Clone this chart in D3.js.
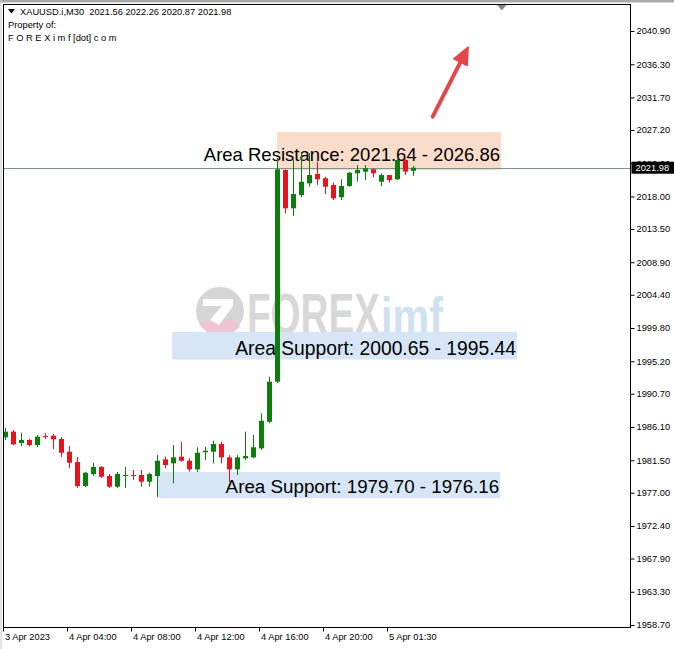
<!DOCTYPE html>
<html>
<head>
<meta charset="utf-8">
<script src="https://cdn.jsdelivr.net/npm/d3@7"></script>
<style>
html,body{margin:0;padding:0;background:#fff;}
svg{display:block;}
text{font-family:"Liberation Sans",Arial,sans-serif;}
</style>
</head>
<body>
<svg id="chart" width="674" height="649"></svg>
<script>
// ---- data ----
const symbolTitle = "XAUUSD.i,M30";
const headerOHLC = ["2021.56", "2022.26", "2020.87", "2021.98"];
const headerLines = ["Property of:", "F O R E X i m f [dot] c o m"];

const opens = [1984.67,1985.45,1983.88,1984.30,1983.60,1984.85,1984.89,1984.44,1982.68,1981.25,
  1977.93,1979.59,1980.56,1979.32,1977.84,1979.32,1979.46,1979.46,1978.53,1979.32,
  1981.63,1981.07,1981.99,1981.43,1980.24,1982.60,1982.68,1983.74,1981.90,1980.24,
  1981.77,1981.90,1983.15,1986.83,1992.37,2021.66,2016.36,2018.20,2019.82,2021.11,
  2020.52,2019.59,2017.89,2019.45,2021.21,2021.43,2021.76,2020.04,2020.97,2020.38,
  2023.05,2021.56];
const highs = [1985.96,1985.68,1985.31,1984.44,1985.00,1985.27,1985.13,1984.71,1983.47,1981.95,
  1979.91,1981.16,1980.70,1979.59,1979.87,1980.60,1980.15,1980.15,1979.77,1982.22,
  1981.99,1983.61,1984.06,1981.77,1983.29,1983.38,1984.20,1984.06,1982.22,1982.22,
  1985.45,1985.00,1987.99,1993.06,2023.32,2021.76,2023.05,2023.97,2023.97,2022.81,
  2020.74,2019.91,2020.38,2021.39,2022.36,2022.36,2021.90,2021.21,2020.97,2023.19,
  2023.14,2022.26];
const lows = [1984.30,1983.60,1983.47,1983.40,1983.33,1984.44,1983.05,1981.95,1980.42,1977.66,
  1977.80,1979.32,1979.04,1977.66,1977.66,1977.66,1978.77,1977.84,1977.84,1976.45,
  1980.38,1978.31,1981.30,1979.91,1979.91,1981.53,1981.07,1981.07,1978.49,1979.46,
  1981.53,1981.77,1982.92,1986.61,1992.19,2015.67,2015.30,2017.89,2019.35,2019.59,
  2018.34,2017.51,2017.51,2019.35,2020.04,2020.28,2020.66,2019.45,2019.91,2020.28,
  2020.97,2020.87];
const closes = [1985.45,1983.70,1984.30,1983.60,1984.76,1984.71,1984.40,1982.54,1981.16,1977.93,
  1979.77,1980.56,1979.22,1977.84,1979.59,1979.46,1979.32,1978.53,1979.59,1981.43,
  1980.84,1981.90,1981.43,1980.24,1982.54,1982.82,1983.74,1981.90,1980.24,1981.90,
  1982.08,1983.29,1986.97,1992.37,2021.76,2016.36,2018.34,2020.04,2020.97,2020.38,
  2019.35,2017.75,2019.45,2021.29,2021.66,2021.90,2021.21,2020.97,2020.28,2023.05,
  2021.43,2021.98];
const lastPrice = 2021.98;

const priceTicks = [2040.90,2036.30,2031.70,2027.20,2022.60,2018.00,2013.50,2008.90,2004.40,
  1999.80,1995.20,1990.70,1986.10,1981.50,1977.00,1972.40,1967.90,1963.30,1958.70];
const timeLabels = ["3 Apr 2023","4 Apr 04:00","4 Apr 08:00","4 Apr 12:00","4 Apr 16:00","4 Apr 20:00","5 Apr 01:30"];
const timeLabelBars = [0, 8, 16, 24, 32, 40, 48];

const zoneLabels = ["Area Resistance: 2021.64 - 2026.86","Area Support: 2000.65 - 1995.44","Area Support: 1979.70 - 1976.16"];
const zoneHigh = [2026.90, 1999.25, 1979.87];
const zoneLow  = [2021.64, 1995.44, 1976.27];
const zoneFromBar = [34.0, 20.9, 19.0];
const zoneToBar   = [62.0, 64.0, 61.9];
const zoneKind = ["resistance","support","support"];

const arrowFrom = [53.46, 2029.04];
const arrowTo   = [57.9, 2038.69];
const shiftMarkerBar = 62.1;

// ---- layout ----
const svg = d3.select("#chart");
const plot = {left: 3.5, right: 630.5, top: 4.5, bottom: 627.5};
const x = d3.scaleLinear().domain([0, 78]).range([5, 629]);
const y = d3.scaleLinear().domain([1958.70, 2040.90]).range([625, 31]);
const green = "#0d7d0d", red = "#e6141d";

// top grey bar
svg.append("rect").attr("x",0).attr("y",0).attr("width",674).attr("height",2.5).attr("fill","#a9a9a9");
svg.append("line").attr("x1",1).attr("x2",1).attr("y1",0).attr("y2",649).attr("stroke","#c8c8c8");

svg.append("defs").append("clipPath").attr("id","plotclip")
  .append("rect").attr("x",plot.left).attr("y",plot.top).attr("width",plot.right-plot.left).attr("height",plot.bottom-plot.top);
const g = svg.append("g").attr("clip-path","url(#plotclip)");

// watermark
const wm = g.append("g");
wm.append("circle").attr("cx",220).attr("cy",311).attr("r",24).attr("fill","#d6d6d6");
wm.append("path").attr("d","M199,323 A24,24 0 0 0 240,326 L231,318 Z").attr("fill","#f0c4d3");
wm.append("path").attr("d","M203,299 L233,299 L233,306 L219,325 L210,320 L222,306 L203,306 Z").attr("fill","#ffffff");
wm.append("text").attr("x",247).attr("y",334).attr("font-size",58).attr("font-weight","bold")
  .attr("textLength",133).attr("lengthAdjust","spacingAndGlyphs").attr("fill","#d8d8d8").text("FOREX");
wm.append("text").attr("x",381).attr("y",334).attr("font-size",52).attr("font-weight","bold")
  .attr("textLength",62).attr("lengthAdjust","spacingAndGlyphs").attr("fill","#d0e1ef").text("imf");

// zones
const zoneFill = k => k === "resistance" ? "#fbdccb" : "#d6e6f6";
g.selectAll("rect.zone").data(zoneLabels).join("rect").attr("class","zone")
  .attr("x",(d,i)=>x(zoneFromBar[i])).attr("width",(d,i)=>x(zoneToBar[i])-x(zoneFromBar[i]))
  .attr("y",(d,i)=>y(zoneHigh[i])).attr("height",(d,i)=>y(zoneLow[i])-y(zoneHigh[i]))
  .attr("fill",(d,i)=>zoneFill(zoneKind[i]));

// last price line
g.append("line").attr("x1",plot.left).attr("x2",plot.right).attr("y1",Math.round(y(lastPrice))+0.5).attr("y2",Math.round(y(lastPrice))+0.5)
  .attr("stroke","#7f9090").attr("stroke-width",1);

// zone labels
const labelLift = i => i === 0 ? 9 : 5;
const labelSize = i => [18.5, 19.3, 18.8][i];
g.selectAll("text.zl").data(zoneLabels).join("text").attr("class","zl")
  .attr("x",(d,i)=>x(zoneToBar[i])-1).attr("y",(d,i)=>y(zoneLow[i])-labelLift(i))
  .attr("text-anchor","end").attr("font-size",(d,i)=>labelSize(i)).attr("fill","#000").text(d=>d);

// candles
const idx = d3.range(opens.length);
const cw = 5;
g.selectAll("line.wick").data(idx).join("line").attr("class","wick")
  .attr("x1",i=>Math.round(x(i))+0.5).attr("x2",i=>Math.round(x(i))+0.5)
  .attr("y1",i=>y(highs[i])).attr("y2",i=>y(lows[i]))
  .attr("stroke",i=>closes[i]>=opens[i]?green:red).attr("stroke-width",1);
g.selectAll("rect.body").data(idx).join("rect").attr("class","body")
  .attr("x",i=>Math.round(x(i))-2).attr("width",cw)
  .attr("y",i=>y(Math.max(opens[i],closes[i])))
  .attr("height",i=>Math.max(1,Math.abs(y(opens[i])-y(closes[i]))))
  .attr("fill",i=>closes[i]>=opens[i]?green:red);

// arrow
const ax1 = x(arrowFrom[0]), ay1 = y(arrowFrom[1]), ax2 = x(arrowTo[0]), ay2 = y(arrowTo[1]);
const ang = Math.atan2(ay2-ay1, ax2-ax1);
const hl = 17, hw = 7.5;
const bx = ax2 - hl*Math.cos(ang), by = ay2 - hl*Math.sin(ang);
g.append("line").attr("x1",ax1).attr("y1",ay1).attr("x2",bx+3*Math.cos(ang)).attr("y2",by+3*Math.sin(ang))
  .attr("stroke","#e2474b").attr("stroke-width",4).attr("stroke-linecap","round");
g.append("path").attr("d",`M${ax2},${ay2} L${bx - hw*Math.sin(ang)},${by + hw*Math.cos(ang)} L${bx + hw*Math.sin(ang)},${by - hw*Math.cos(ang)} Z`)
  .attr("fill","#e2474b").attr("stroke","#e2474b").attr("stroke-linejoin","round").attr("stroke-width",1.5);

// shift marker
const sx = x(shiftMarkerBar);
svg.append("path").attr("d",`M${sx-5},${plot.top} L${sx+5},${plot.top} L${sx},${plot.top+6} Z`).attr("fill","#7d8996");

// frame
svg.append("rect").attr("x",plot.left).attr("y",plot.top).attr("width",plot.right-plot.left).attr("height",plot.bottom-plot.top)
  .attr("fill","none").attr("stroke","#000").attr("stroke-width",1);

// right axis
const yAxis = d3.axisRight(y).tickValues(priceTicks).tickSize(4).tickPadding(2).tickFormat(d3.format(".2f"));
const ya = svg.append("g").attr("transform",`translate(${plot.right},0)`).call(yAxis);
ya.select(".domain").remove();
ya.selectAll("text").attr("font-size",9.3).attr("fill","#000").attr("font-family","Liberation Sans, Arial, sans-serif");
ya.selectAll("line").attr("stroke","#000");

// last price label (covers the nearby tick label, as in the terminal)
const lpY = y(lastPrice);
svg.append("rect").attr("x",plot.right+1).attr("y",lpY-6).attr("width",43).attr("height",12).attr("fill","#000");
svg.append("text").attr("x",plot.right+5).attr("y",lpY+3.5).attr("font-size",9.3).attr("fill","#fff").text(d3.format(".2f")(lastPrice));

// bottom axis
const xa = svg.append("g");
xa.selectAll("line").data(timeLabels).join("line")
  .attr("x1",(d,i)=>Math.round(x(timeLabelBars[i]))-1.5).attr("x2",(d,i)=>Math.round(x(timeLabelBars[i]))-1.5)
  .attr("y1",plot.bottom).attr("y2",plot.bottom+4).attr("stroke","#000");
xa.selectAll("text").data(timeLabels).join("text")
  .attr("x",(d,i)=>Math.round(x(timeLabelBars[i]))).attr("y",plot.bottom+12)
  .attr("font-size",9.3).attr("fill","#000").text(d=>d);

// header
const hd = svg.append("g");
hd.append("path").attr("d","M8,9 L15,9 L11.5,13.5 Z").attr("fill","#000");
hd.append("text").attr("x",20).attr("y",15).attr("font-size",9.3).attr("fill","#000")
  .attr("xml:space","preserve").text(symbolTitle + "  " + headerOHLC.join(" "));
hd.selectAll("text.hl").data(headerLines).join("text").attr("class","hl")
  .attr("x",8).attr("y",(d,i)=>28+i*12.5).attr("font-size",9.3).attr("fill","#000").text(d=>d);
</script>
</body>
</html>
